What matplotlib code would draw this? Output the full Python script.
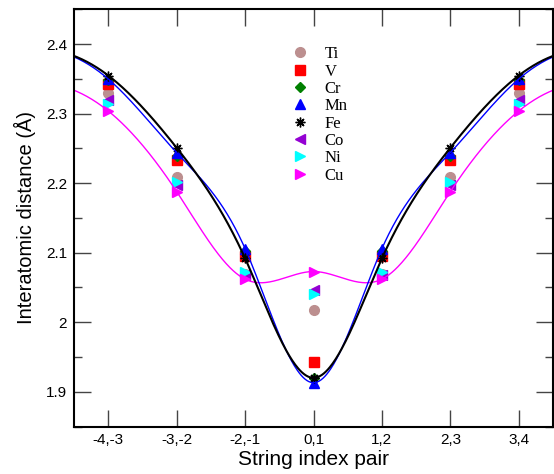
import numpy as np
import matplotlib
matplotlib.use('Agg')
import matplotlib.pyplot as plt
from matplotlib.ticker import MultipleLocator

pairs = ['-4,-3', '-3,-2', '-2,-1', '0,1', '1,2', '2,3', '3,4']
idx = np.arange(len(pairs))
period = 8  # curves are periodic spline fits over the string

# interatomic distances (Angstrom)
Ti = [2.330, 2.209, 2.069, 2.018, 2.069, 2.209, 2.330]
V = [2.343, 2.234, 2.095, 1.943, 2.095, 2.234, 2.343]
Cr = [2.348, 2.239, 2.103, 1.920, 2.103, 2.239, 2.348]
Mn = [2.350, 2.244, 2.106, 1.913, 2.106, 2.244, 2.350]
Fe = [2.355, 2.251, 2.092, 1.920, 2.092, 2.251, 2.355]
Co = [2.320, 2.197, 2.068, 2.047, 2.068, 2.197, 2.320]
Ni = [2.314, 2.202, 2.073, 2.040, 2.073, 2.202, 2.314]
Cu = [2.304, 2.188, 2.062, 2.073, 2.062, 2.188, 2.304]


def periodic_spline(y, xs, period):
    # periodic cubic spline through (0..n-1, y), wrapping at 'period'
    n = len(y)
    x = np.r_[np.arange(n), period]
    yy = np.r_[y, y[0]]
    h = np.diff(x)
    A = np.zeros((n, n))
    b = np.zeros(n)
    for i in range(n):
        hp = h[i - 1] if i > 0 else h[-1]
        hn = h[i]
        yp = yy[i - 1] if i > 0 else yy[-2]
        A[i, (i - 1) % n] += hp
        A[i, i] += 2 * (hp + hn)
        A[i, (i + 1) % n] += hn
        b[i] = 6 * ((yy[i + 1] - yy[i]) / hn - (yy[i] - yp) / hp)
    M = np.linalg.solve(A, b)
    M = np.r_[M, M[0]]
    xm = np.mod(xs, period)
    k = np.clip(np.searchsorted(x, xm, side='right') - 1, 0, n - 1)
    t = xm - x[k]
    hk = h[k]
    slope = (yy[k + 1] - yy[k]) / hk - hk * (2 * M[k] + M[k + 1]) / 6
    return yy[k] + slope * t + M[k] / 2 * t ** 2 + (M[k + 1] - M[k]) / (6 * hk) * t ** 3


plt.rcParams['font.family'] = ['Liberation Sans', 'DejaVu Sans']

fig = plt.figure(figsize=(5.54, 4.74), dpi=100)
ax = fig.add_axes([0.1336, 0.1002, 0.8646, 0.8798])

series = [
    ('Ti', Ti, dict(marker='o', color='#bc8f8f', ms=7)),
    ('V', V, dict(marker='s', color='red', ms=6.5)),
    ('Cr', Cr, dict(marker='D', color='green', ms=5.5)),
    ('Mn', Mn, dict(marker='^', color='blue', ms=7)),
    ('Fe', Fe, dict(marker=(8, 2, 0), color='black', ms=7, mew=1.0)),
    ('Co', Co, dict(marker='<', color='#9400d3', ms=7)),
    ('Ni', Ni, dict(marker='>', color='cyan', ms=7)),
    ('Cu', Cu, dict(marker='>', color='magenta', ms=7)),
]
for name, vals, st in series:
    ax.plot(idx, vals, ls='none', label=name, mec=st['color'], **st)

xs = np.linspace(-0.6, 6.6, 500)
ax.plot(xs, periodic_spline(Cu, xs, period), color='magenta', lw=1.0)
ax.plot(xs, periodic_spline(Mn, xs, period), color='blue', lw=1.0)
ax.plot(xs, periodic_spline(Fe, xs, period), color='black', lw=1.5)

ax.set_xlim(-0.5, 6.5)
ax.set_ylim(1.85, 2.45)
ax.set_xticks(idx)
ax.set_xticklabels(pairs)
ax.yaxis.set_minor_locator(MultipleLocator(0.05))
ax.set_yticks([1.9, 2.0, 2.1, 2.2, 2.3, 2.4])
ax.set_yticklabels(['1.9', '2', '2.1', '2.2', '2.3', '2.4'])
ax.tick_params(which='both', direction='in', top=True, right=True,
               labelsize=11, color='#444444')
ax.tick_params(which='major', length=12, width=1, pad=5)
ax.tick_params(which='minor', length=6, width=1)
ax.tick_params(axis='x', which='minor', top=False, bottom=False)
for sp in ax.spines.values():
    sp.set_linewidth(1.5)

ax.set_xlabel('String index pair', fontsize=15, labelpad=2)
ax.set_ylabel('Interatomic distance (Å)', fontsize=14.5, labelpad=7)

ax.legend(loc='upper left', bbox_to_anchor=(0.454, 0.912), frameon=False,
          prop={'family': 'Liberation Serif', 'size': 12},
          handlelength=1.0, handletextpad=1.0, labelspacing=0.08,
          borderpad=0, borderaxespad=0)

fig.savefig('out.png', dpi=100)
